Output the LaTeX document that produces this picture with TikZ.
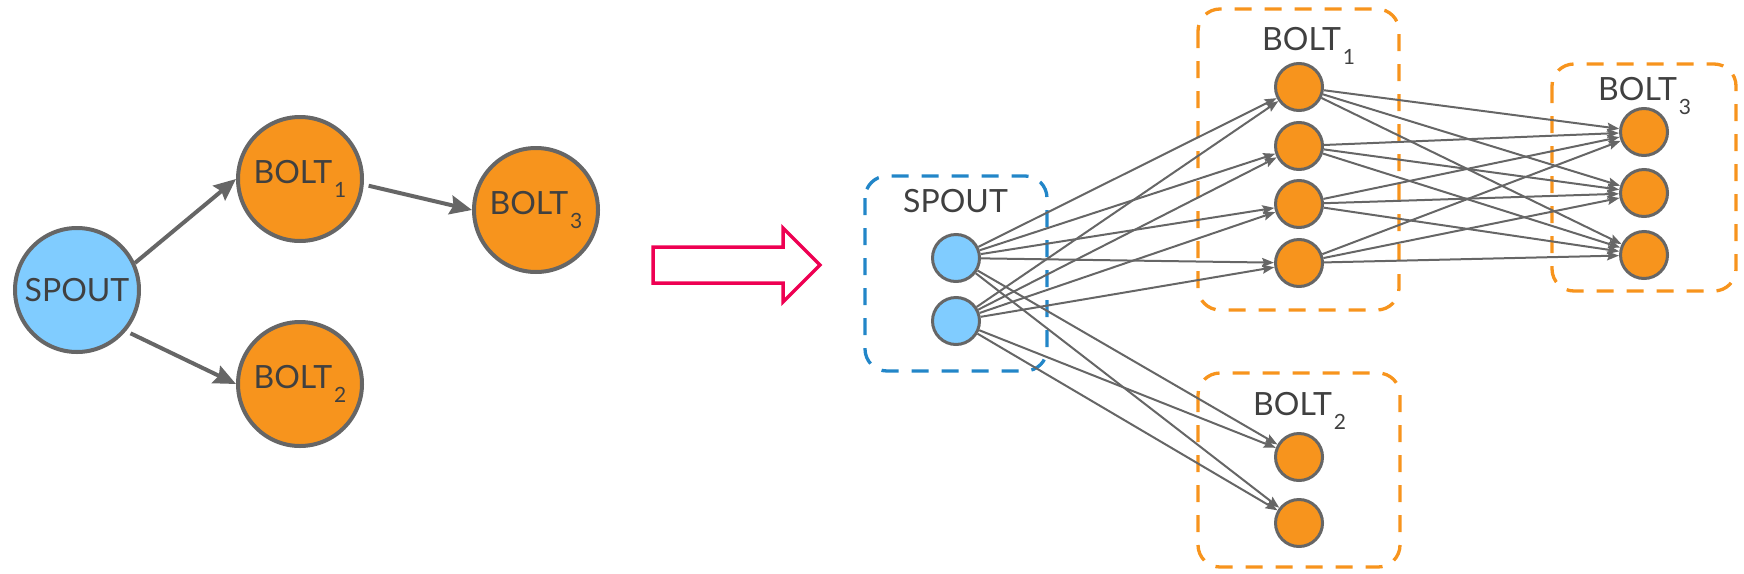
\documentclass[tikz,border=0pt]{standalone}
\usepackage{fontspec}
\setmainfont{Lato}
\usetikzlibrary{arrows.meta}
\definecolor{BOLTORANGE}{RGB}{247,148,29}
\definecolor{SPOUTBLUE}{RGB}{128,204,255}
\definecolor{LINEGRAY}{RGB}{102,102,102}
\definecolor{TEXTGRAY}{RGB}{64,64,64}
\definecolor{BOXBLUE}{RGB}{34,134,200}
\definecolor{TURNRED}{RGB}{238,0,82}
\newcommand{\IDX}[1]{\kern2pt\raisebox{-0.45em}{\fontsize{21}{21}\selectfont #1}}
\tikzset{
BIG/.style={circle,draw=LINEGRAY,line width=4pt,minimum size=124pt,inner sep=0pt,text=TEXTGRAY,font=\fontsize{32}{32}\selectfont},
SMALL/.style={circle,draw=LINEGRAY,line width=3pt,minimum size=47pt,inner sep=0pt},
BIGARC/.style={draw=LINEGRAY,line width=4pt,-{Stealth[length=22pt,width=19pt,inset=3pt]}},
ARC/.style={draw=LINEGRAY,line width=2pt,-{Stealth[length=12pt,width=9pt,inset=2pt]}},
GROUP/.style={draw=#1,line width=3.3pt,dash pattern=on 17pt off 13pt,rounded corners=22pt},
GROUP/.default=BOLTORANGE,
LABEL/.style={inner sep=0pt,anchor=base west,text=TEXTGRAY,font=\fontsize{32}{32}\selectfont},
}
\begin{document}
\begin{tikzpicture} %logical topology and its tasks
[x=1pt, y=-1pt]
	\useasboundingbox (0,0) rectangle (1744,573);
	\node[BIG,fill=SPOUTBLUE] (SPOUT) at (77,290) {SPOUT};
	\node[BIG,fill=BOLTORANGE] (BOLTa) at (300,179) {BOLT\IDX{1}};
	\node[BIG,fill=BOLTORANGE] (BOLTb) at (300,384) {BOLT\IDX{2}};
	\node[BIG,fill=BOLTORANGE] (BOLTc) at (536,210) {BOLT\IDX{3}};
	\path[BIGARC] (SPOUT.25) -- (BOLTa.west);
	\path[BIGARC,shorten <=5pt] (SPOUT.-40) -- (BOLTb.west);
	\path[BIGARC,shorten <=5pt] (BOLTa.-5) -- (BOLTc.west);
	% hollow arrow
	\path[draw=TURNRED,line width=3.5pt,line join=miter] (653,247) -- (783,247) -- (783,228) -- (820,265)
		-- (783,302) -- (783,283) -- (653,283) -- cycle;
	% groups
	\path[GROUP=BOXBLUE] (865,176) rectangle (1047,371);
	\path[GROUP] (1198,9) rectangle (1399,310);
	\path[GROUP] (1198,373) rectangle (1400,567);
	\path[GROUP] (1552,64) rectangle (1736,291);
	\node[LABEL] (Lspout) at (903,212) {SPOUT};
	\node[LABEL] (Lbolta) at (1262,50) {BOLT\IDX{1}};
	\node[LABEL] (Lboltb) at (1253,415) {BOLT\IDX{2}};
	\node[LABEL] (Lboltc) at (1598,100) {BOLT\IDX{3}};
	% tasks
	\node[SMALL,fill=SPOUTBLUE] (S1) at (956,258) {};
	\node[SMALL,fill=SPOUTBLUE] (S2) at (956,321) {};
	\node[SMALL,fill=BOLTORANGE] (A1) at (1299,87) {};
	\node[SMALL,fill=BOLTORANGE] (A2) at (1299,146) {};
	\node[SMALL,fill=BOLTORANGE] (A3) at (1299,204) {};
	\node[SMALL,fill=BOLTORANGE] (A4) at (1299,263) {};
	\node[SMALL,fill=BOLTORANGE] (B1) at (1299,457) {};
	\node[SMALL,fill=BOLTORANGE] (B2) at (1299,523) {};
	\node[SMALL,fill=BOLTORANGE] (C1) at (1644,132) {};
	\node[SMALL,fill=BOLTORANGE] (C2) at (1644,193) {};
	\node[SMALL,fill=BOLTORANGE] (C3) at (1644,255) {};
	% spout to bolt 1
	\path[ARC] (S1) -- (A1);
	\path[ARC] (S1) -- (A2);
	\path[ARC] (S1) -- (A3);
	\path[ARC] (S1) -- (A4);
	\path[ARC] (S2) -- (A1);
	\path[ARC] (S2) -- (A2);
	\path[ARC] (S2) -- (A3);
	\path[ARC] (S2) -- (A4);
	% spout to bolt 2
	\path[ARC] (S1) -- (B1);
	\path[ARC] (S1) -- (B2);
	\path[ARC] (S2) -- (B1);
	\path[ARC] (S2) -- (B2);
	% bolt 1 to bolt 3
	\path[ARC] (A1) -- (C1);
	\path[ARC] (A1) -- (C2);
	\path[ARC] (A1) -- (C3);
	\path[ARC] (A2) -- (C1);
	\path[ARC] (A2) -- (C2);
	\path[ARC] (A2) -- (C3);
	\path[ARC] (A3) -- (C1);
	\path[ARC] (A3) -- (C2);
	\path[ARC] (A3) -- (C3);
	\path[ARC] (A4) -- (C1);
	\path[ARC] (A4) -- (C2);
	\path[ARC] (A4) -- (C3);
\end{tikzpicture}
\end{document}
